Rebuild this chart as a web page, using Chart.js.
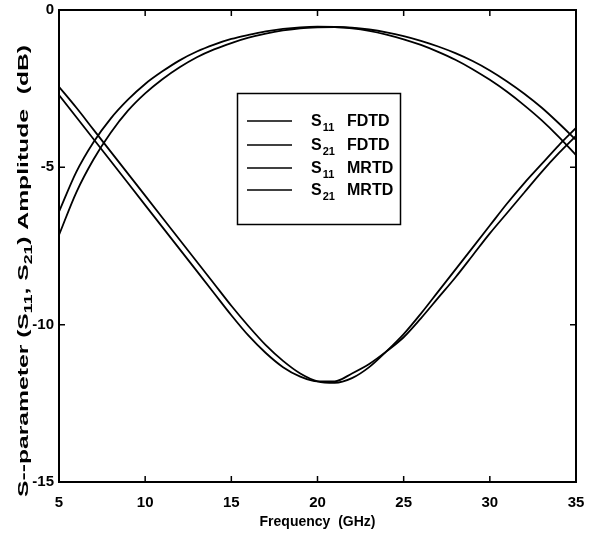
<!DOCTYPE html>
<html lang="en">
<head>
    <meta charset="UTF-8">
    <title>S-parameter Amplitude</title>
    <script src="https://cdn.jsdelivr.net/npm/chart.js"></script>
    <style>
        body { margin: 0; background: #fff; }
        .chart-container { width: 602px; height: 539px; }
    </style>
</head>
<body>
<div class="chart-container"><canvas id="spChart"></canvas></div>
<script>
// frequency samples (GHz)
const freq = [5,6,7,8,9,10,11,12,13,14,15,16,17,18,19,20,21,22,23,24,25,26,27,28,29,30,31,32,33,34,35];

// amplitudes in dB
const s11Fdtd = [-2.70,-3.40,-4.10,-4.80,-5.50,-6.20,-6.90,-7.60,-8.30,-9.00,-9.70,-10.35,-10.90,-11.35,-11.65,-11.80,
                 -11.80,-11.55,-11.25,-10.85,-10.40,-9.80,-9.15,-8.50,-7.80,-7.10,-6.45,-5.80,-5.15,-4.55,-4.00];
const s21Fdtd = [-6.41,-5.15,-4.20,-3.45,-2.85,-2.35,-1.95,-1.60,-1.32,-1.10,-0.92,-0.79,-0.68,-0.60,-0.55,-0.53,
                 -0.54,-0.58,-0.66,-0.78,-0.93,-1.11,-1.33,-1.58,-1.88,-2.22,-2.60,-3.03,-3.50,-4.03,-4.61];
const s11Mrtd = [-2.44,-3.10,-3.80,-4.50,-5.20,-5.90,-6.60,-7.30,-8.00,-8.70,-9.40,-10.05,-10.65,-11.15,-11.55,-11.80,
                 -11.85,-11.70,-11.35,-10.85,-10.30,-9.65,-8.95,-8.25,-7.55,-6.85,-6.15,-5.50,-4.90,-4.30,-3.75];
const s21Mrtd = [-7.15,-5.80,-4.75,-3.90,-3.20,-2.65,-2.20,-1.82,-1.50,-1.25,-1.05,-0.88,-0.75,-0.65,-0.58,-0.55,
                 -0.54,-0.56,-0.62,-0.71,-0.83,-0.98,-1.16,-1.37,-1.62,-1.92,-2.27,-2.66,-3.10,-3.60,-4.13];

const xTicks = [5,10,15,20,25,30,35];
const yTicks = [0,-5,-10,-15];

const legendSubs = ['11','21','11','21'];
const legendMethods = ['FDTD','FDTD','MRTD','MRTD'];

const seriesList = [s11Fdtd, s21Fdtd, s11Mrtd, s21Mrtd];

const toPoints = arr => arr.map((v, i) => ({ x: freq[i], y: v }));

const FAMILY = '"Liberation Sans", Arial, sans-serif';

// frame, inward ticks, legend box and y-axis title with subscripts
const decorPlugin = {
    id: 'decor',
    afterDatasetsDraw(chart) {
        const ctx = chart.ctx;
        const a = chart.chartArea;
        const xs = chart.scales.x, ys = chart.scales.y;
        ctx.save();
        ctx.strokeStyle = '#000';
        ctx.lineWidth = 2;
        ctx.strokeRect(a.left, a.top, a.right - a.left, a.bottom - a.top);

        ctx.lineWidth = 1.5;
        const tl = 6;
        ctx.beginPath();
        xTicks.forEach(t => {
            const px = xs.getPixelForValue(t);
            ctx.moveTo(px, a.bottom); ctx.lineTo(px, a.bottom - tl);
            ctx.moveTo(px, a.top); ctx.lineTo(px, a.top + tl);
        });
        yTicks.forEach(t => {
            const py = ys.getPixelForValue(t);
            ctx.moveTo(a.left, py); ctx.lineTo(a.left + tl, py);
            ctx.moveTo(a.right, py); ctx.lineTo(a.right - tl, py);
        });
        ctx.stroke();

        // legend
        ctx.lineWidth = 1.5;
        ctx.strokeRect(237.5, 93.5, 163, 131);
        const rows = [121, 145, 168, 190];
        ctx.fillStyle = '#000';
        ctx.textBaseline = 'alphabetic';
        rows.forEach((ry, i) => {
            const ds = chart.data.datasets[i];
            ctx.strokeStyle = ds.borderColor;
            ctx.lineWidth = 1.6;
            ctx.beginPath();
            ctx.moveTo(247, ry); ctx.lineTo(292, ry);
            ctx.stroke();
            ctx.font = 'bold 16px ' + FAMILY;
            ctx.fillText('S', 311, ry + 5);
            const sw = ctx.measureText('S').width;
            ctx.font = 'bold 11px ' + FAMILY;
            ctx.fillText(legendSubs[i], 311 + sw + 1, ry + 10);
            ctx.font = 'bold 16px ' + FAMILY;
            ctx.fillText(legendMethods[i], 347, ry + 5);
        });

        // y axis title, stretched along its length like the scan
        const parts = [
            ['S--parameter (S', false], ['11', true], [', S', false], ['21', true], [') Amplitude', false]
        ];
        const mainFont = 'bold 14px ' + FAMILY, subFont = 'bold 10px ' + FAMILY;
        let natural = 0;
        parts.forEach(([txt, sub]) => {
            ctx.font = sub ? subFont : mainFont;
            natural += ctx.measureText(txt).width;
        });
        const stretch = 388 / natural;
        ctx.translate(28, 497);
        ctx.rotate(-Math.PI / 2);
        ctx.scale(stretch, 1);
        let x = 0;
        parts.forEach(([txt, sub]) => {
            ctx.font = sub ? subFont : mainFont;
            ctx.fillText(txt, x, sub ? 4 : 0);
            x += ctx.measureText(txt).width;
        });
        ctx.font = mainFont;
        ctx.textAlign = 'right';
        ctx.fillText('(dB)', (497 - 45) / stretch, 0);
        ctx.restore();
    }
};

const ctx = document.getElementById('spChart').getContext('2d');
new Chart(ctx, {
    type: 'line',
    data: {
        datasets: seriesList.map((s, i) => ({
            label: 'S' + legendSubs[i] + ' ' + legendMethods[i],
            data: toPoints(s),
            borderColor: '#000',
            borderWidth: 1.8,
            pointRadius: 0,
            fill: false,
            cubicInterpolationMode: 'monotone'
        }))
    },
    options: {
        responsive: true,
        maintainAspectRatio: false,
        animation: false,
        layout: { padding: { top: 10, right: 26, left: 0, bottom: 0 } },
        plugins: {
            legend: { display: false },
            tooltip: { enabled: false }
        },
        scales: {
            x: {
                type: 'linear',
                min: 5, max: 35,
                afterFit: s => { s.height = 57; s.paddingLeft = 0; s.paddingRight = 0; },
                afterBuildTicks: s => { s.ticks = xTicks.map(v => ({ value: v })); },
                grid: { display: false, drawTicks: false },
                border: { display: false },
                ticks: { color: '#000', font: { family: FAMILY, size: 15, weight: 'bold' }, padding: 12, maxRotation: 0 },
                title: {
                    display: true,
                    text: 'Frequency  (GHz)',
                    color: '#000',
                    font: { family: FAMILY, size: 14, weight: 'bold' },
                    padding: { top: 0, bottom: 8 }
                }
            },
            y: {
                min: -15, max: 0,
                afterFit: s => { s.width = 59; s.paddingTop = 0; s.paddingBottom = 0; },
                afterBuildTicks: s => { s.ticks = yTicks.map(v => ({ value: v })); },
                grid: { display: false, drawTicks: false },
                border: { display: false },
                ticks: { color: '#000', font: { family: FAMILY, size: 15, weight: 'bold' }, padding: 5 }
            }
        }
    },
    plugins: [decorPlugin]
});
</script>
</body>
</html>
